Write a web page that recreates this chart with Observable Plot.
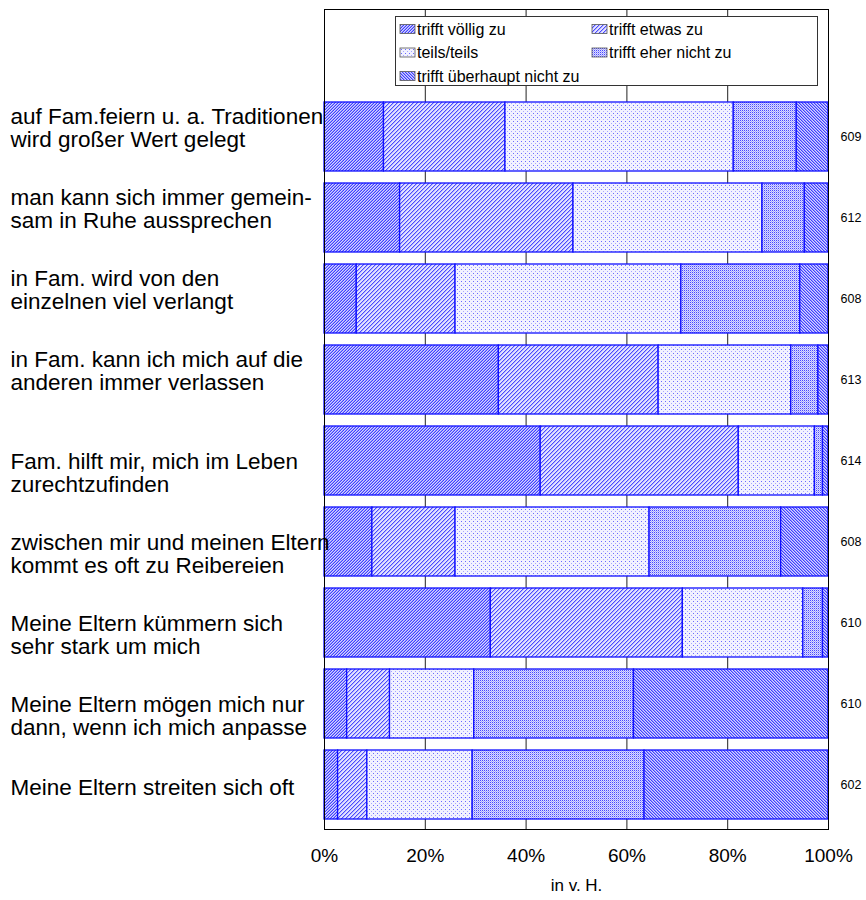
<!DOCTYPE html>
<html><head><meta charset="utf-8">
<script src="https://cdn.jsdelivr.net/npm/d3@7"></script>
<script src="https://cdn.jsdelivr.net/npm/@observablehq/plot@0.6"></script>
<style>
body{margin:0;background:#fff;font-family:"Liberation Sans",Arial,sans-serif;}
</style></head><body><div id="chart"></div>
<script>
const categories = [
  "auf Fam.feiern u. a. Traditionen\nwird großer Wert gelegt",
  "man kann sich immer gemein-\nsam in Ruhe aussprechen",
  "in Fam. wird von den\neinzelnen viel verlangt",
  "in Fam. kann ich mich auf die\nanderen immer verlassen",
  "Fam. hilft mir, mich im Leben\nzurechtzufinden",
  "zwischen mir und meinen Eltern\nkommt es oft zu Reibereien",
  "Meine Eltern kümmern sich\nsehr stark um mich",
  "Meine Eltern mögen mich nur\ndann, wenn ich mich anpasse",
  "Meine Eltern streiten sich oft"
];
const series = ["trifft völlig zu","trifft etwas zu","teils/teils","trifft eher nicht zu","trifft überhaupt nicht zu"];
const voelligZu         = [11.8, 15.0,  6.4, 34.6, 42.9,  9.5, 33.0,  4.5,  2.7];
const etwasZu           = [24.1, 34.4, 19.6, 31.7, 39.3, 16.5, 38.1,  8.5,  5.8];
const teilsTeils        = [45.3, 37.5, 44.8, 26.3, 15.1, 38.5, 23.9, 16.7, 20.9];
const eherNichtZu       = [12.5,  8.4, 23.6,  5.4,  1.6, 26.1,  3.9, 31.7, 34.1];
const ueberhauptNichtZu = [ 6.3,  4.7,  5.6,  2.0,  1.1,  9.4,  1.1, 38.6, 36.5];
const counts = [609, 612, 608, 613, 614, 608, 610, 610, 602];
const xTicks = [0, 20, 40, 60, 80, 100];
const gridTicks = [20, 40, 60, 80];
const axisTitle = "in v. H.";

const seriesValues = [voelligZu, etwasZu, teilsTeils, eherNichtZu, ueberhauptNichtZu];
const rows = [];
categories.forEach((c, i) => {
  series.forEach((s, j) => rows.push({cat: c, series: s, value: seriesValues[j][i]}));
});
const countRows = categories.map((c, i) => ({cat: c, n: counts[i]}));

const font = "Liberation Sans, Arial, sans-serif";
const labelOpts = {y: d => d, text: d => d, frameAnchor: "left", textAnchor: "start", dx: -314, fontSize: 22.5, lineHeight: 1.02, fill: "#000"};

const chart = Plot.plot({
  width: 866,
  height: 900,
  marginLeft: 324,
  marginRight: 38,
  marginTop: 9,
  marginBottom: 71,
  style: {fontFamily: font, background: "#fff", color: "#000"},
  x: {domain: [0, 100], ticks: xTicks, label: null},
  y: {domain: categories, paddingInner: 0.152, paddingOuter: 0.076, insetTop: 83, axis: null},
  color: {type: "ordinal", domain: series, range: series.map((s, i) => `url(#pat${i})`)},
  marks: [
    Plot.ruleX(gridTicks, {stroke: "#222", strokeWidth: 1}),
    Plot.barX(rows, Plot.stackX({x: "value", y: "cat", fill: "series", stroke: "#1010ff", strokeWidth: 1.3, order: null})),
    Plot.frame({stroke: "#000", strokeWidth: 1}),
    Plot.axisX({ticks: xTicks, tickFormat: d => d + "%", tickSize: 0, tickPadding: 19, fontSize: 19, fill: "#000", label: null}),
    Plot.text([axisTitle], {text: d => d, frameAnchor: "bottom", dy: 61, fontSize: 17, fill: "#000"}),
    Plot.text(categories.slice(0, 4), {...labelOpts, dy: -9}),
    Plot.text(categories.slice(4, 8), {...labelOpts, dy: 12}),
    Plot.text(categories.slice(8), {...labelOpts, dy: 3}),
    Plot.text(countRows, {y: "cat", text: d => String(d.n), frameAnchor: "right", textAnchor: "start", dx: 12, fontSize: 12.5, fill: "#000"})
  ]
});

document.getElementById("chart").appendChild(chart);

// pixel pattern definitions
const svg = d3.select(chart.tagName.toLowerCase() === "svg" ? chart : chart.querySelector("svg"));
const defs = svg.insert("defs", ":first-child");
function pixelPat(id, size, colorAt) {
  const p = defs.append("pattern").attr("id", id).attr("patternUnits", "userSpaceOnUse")
    .attr("width", size).attr("height", size).attr("shape-rendering", "crispEdges");
  for (let y = 0; y < size; y++) for (let x = 0; x < size; x++) {
    p.append("rect").attr("x", x).attr("y", y).attr("width", 1).attr("height", 1)
      .attr("fill", colorAt(x, y)).attr("shape-rendering", "crispEdges");
  }
}
// 0: trifft völlig zu — dense "/" hatch
pixelPat("pat0", 3, (x, y) => ["#d4d4ff", "#9696ff", "#4040ff"][(x + y) % 3]);
// 1: trifft etwas zu — sparser "/" hatch
pixelPat("pat1", 4, (x, y) => ["#b0b0ff", "#e2e2ff", "#e2e2ff", "#4a4aff"][(x + y) % 4]);
// 2: teils/teils — sparse dots
pixelPat("pat2", 4, (x, y) => (x === 1 && y === 1) ? "#6a6aff" : (x === 3 && y === 3) ? "#a6a6ff" : "#f2f2ff");
// 3: trifft eher nicht zu — fine checker
pixelPat("pat3", 2, (x, y) => (x === 0 && y === 0) ? "#4848ff" : (x === 1 && y === 1) ? "#a8a8ff" : "#dcdcff");
// 4: trifft überhaupt nicht zu — "\" hatch
pixelPat("pat4", 3, (x, y) => ["#4040ff", "#9696ff", "#d4d4ff"][((x - y) % 3 + 3) % 3]);

// legend inside the frame
const lg = svg.append("g").attr("font-family", font).attr("font-size", 16).attr("text-anchor", "start");
lg.append("rect").attr("x", 395.5).attr("y", 16.5).attr("width", 422).attr("height", 69)
  .attr("fill", "#fff").attr("stroke", "#333").attr("stroke-width", 1);
series.forEach((s, j) => {
  const col = j % 2, row = Math.floor(j / 2);
  const x0 = col === 0 ? 400 : 592;
  const yc = 29 + row * 23.5;
  lg.append("rect").attr("x", x0).attr("y", yc - 4.5).attr("width", 15).attr("height", 9)
    .attr("fill", `url(#pat${j})`).attr("stroke", "#555").attr("stroke-width", 0.8);
  lg.append("text").attr("x", x0 + 17).attr("y", yc).attr("dy", "0.35em").attr("fill", "#000")
    .attr("text-anchor", "start").text(s);
});
</script>
</body></html>
